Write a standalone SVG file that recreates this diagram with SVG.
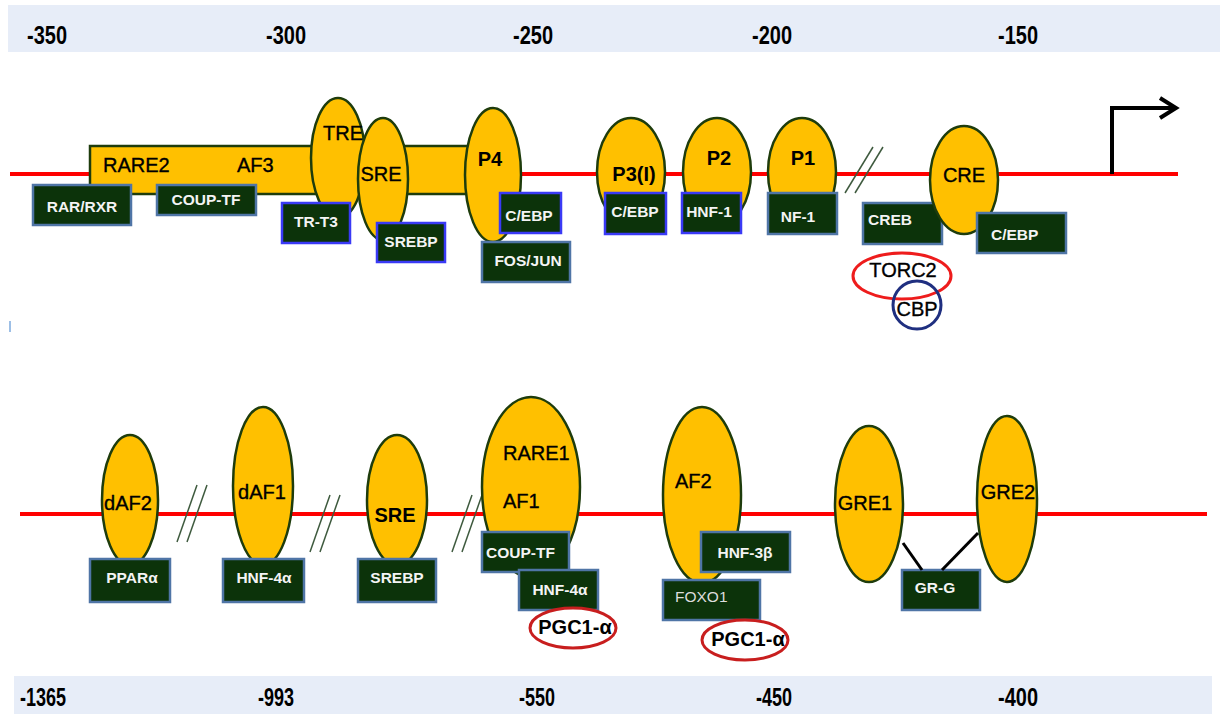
<svg xmlns="http://www.w3.org/2000/svg" width="1226" height="715" viewBox="0 0 1226 715">
<style>
.bar{fill:#E7EDF8}
.ax{font-family:"Liberation Sans",Arial,sans-serif;font-weight:bold;font-size:25px;fill:#000;text-anchor:middle}
.dna{stroke:#FF0000;stroke-width:4;fill:none}
.el{fill:#FFC000;stroke:#1E3C0C;stroke-width:2.5}
.bx{fill:#0C330A;stroke:#4F75A6;stroke-width:2.5}
.bb{fill:#0C330A;stroke:#3A3AF5;stroke-width:2.5}
.lbl{font-family:"Liberation Sans",Arial,sans-serif;font-size:20px;fill:#000;stroke:#000;stroke-width:0.35}
.b{font-weight:bold;stroke-width:0}
.m{text-anchor:middle}
.bt{font-family:"Liberation Sans",Arial,sans-serif;font-size:15.5px;font-weight:bold;fill:#F4F4F4}
.thin{font-weight:normal;fill:#DDDDDD}
.sl{stroke:#3E5A3E;stroke-width:1.5}
.pgc{fill:#fff;stroke:#C81E1E;stroke-width:3}
.con{stroke:#000;stroke-width:3;fill:none}
</style>

<!-- axis bars -->
<g id="axis-top">
<rect class="bar" x="8" y="5" width="1212" height="47"/>
<text class="ax" x="47" y="44" textLength="40" lengthAdjust="spacingAndGlyphs">-350</text>
<text class="ax" x="286" y="44" textLength="40" lengthAdjust="spacingAndGlyphs">-300</text>
<text class="ax" x="533" y="44" textLength="40" lengthAdjust="spacingAndGlyphs">-250</text>
<text class="ax" x="772" y="44" textLength="40" lengthAdjust="spacingAndGlyphs">-200</text>
<text class="ax" x="1018" y="44" textLength="40" lengthAdjust="spacingAndGlyphs">-150</text>
</g>
<g id="axis-bottom">
<rect class="bar" x="14" y="676" width="1198" height="38"/>
<text class="ax" x="43" y="706" textLength="46" lengthAdjust="spacingAndGlyphs">-1365</text>
<text class="ax" x="276" y="706" textLength="36" lengthAdjust="spacingAndGlyphs">-993</text>
<text class="ax" x="537" y="706" textLength="36" lengthAdjust="spacingAndGlyphs">-550</text>
<text class="ax" x="774" y="706" textLength="36" lengthAdjust="spacingAndGlyphs">-450</text>
<text class="ax" x="1018" y="706" textLength="40" lengthAdjust="spacingAndGlyphs">-400</text>
</g>

<line x1="10" y1="321" x2="10" y2="332" stroke="#9DBFE6" stroke-width="2"/>

<!-- DNA lines -->
<line class="dna" x1="10" y1="174" x2="1178" y2="174"/>
<line class="dna" x1="20" y1="514" x2="1207" y2="514"/>

<!-- break marks -->
<g id="breaks">
<line class="sl" x1="873" y1="147" x2="845" y2="193"/>
<line class="sl" x1="883" y1="147" x2="855" y2="193"/>
<line class="sl" x1="207" y1="485" x2="187" y2="542"/>
<line class="sl" x1="197" y1="485" x2="177" y2="542"/>
<line class="sl" x1="340" y1="495" x2="320" y2="552"/>
<line class="sl" x1="330" y1="495" x2="310" y2="552"/>
<line class="sl" x1="482" y1="495" x2="462" y2="552"/>
<line class="sl" x1="472" y1="495" x2="452" y2="552"/>
</g>

<!-- TSS arrow -->
<g id="tss">
<polyline points="1112,174 1112,108 1174,108" fill="none" stroke="#000" stroke-width="4" stroke-linejoin="miter"/>
<polyline points="1160,98 1176,108 1160,118" fill="none" stroke="#000" stroke-width="4"/>
</g>

<!-- top row -->
<g id="rare2-af3">
<rect class="el" x="90" y="146" width="390" height="48"/>
<text class="lbl" x="103" y="172">RARE2</text>
<text class="lbl" x="237" y="172">AF3</text>
</g>
<g id="rar-rxr"><rect class="bx" x="33" y="185" width="98" height="40"/><text class="bt m" x="82" y="212">RAR/RXR</text></g>
<g id="coup-tf-top"><rect class="bx" x="157" y="185" width="99" height="30"/><text class="bt m" x="206" y="205">COUP-TF</text></g>
<g id="tre"><ellipse class="el" cx="338" cy="158" rx="27" ry="60"/><text class="lbl m" x="343" y="140" font-size="19">TRE</text></g>
<g id="sre-top"><ellipse class="el" cx="383" cy="179" rx="25" ry="61"/><text class="lbl m" x="381" y="181">SRE</text></g>
<g id="tr-t3"><rect class="bb" x="282" y="203" width="68" height="40"/><text class="bt m" x="316" y="227">TR-T3</text></g>
<g id="srebp-top"><rect class="bb" x="377" y="223" width="68" height="39"/><text class="bt m" x="411" y="247">SREBP</text></g>
<g id="p4"><ellipse class="el" cx="493" cy="175" rx="28" ry="67"/><text class="lbl b m" x="490" y="166" font-size="22">P4</text></g>
<g id="cebp-p4"><rect class="bb" x="500" y="193" width="61" height="40"/><text class="bt m" x="529" y="221">C/EBP</text></g>
<g id="fos-jun"><rect class="bx" x="482" y="242" width="88" height="40"/><text class="bt m" x="528" y="266">FOS/JUN</text></g>
<g id="p3"><ellipse class="el" cx="631" cy="172" rx="34" ry="54"/><text class="lbl b m" x="634" y="181" font-size="23">P3(I)</text></g>
<g id="cebp-p3"><rect class="bb" x="605" y="193" width="61" height="41"/><text class="bt m" x="635" y="217">C/EBP</text></g>
<g id="p2"><ellipse class="el" cx="717" cy="172" rx="34" ry="54"/><text class="lbl b m" x="719" y="165" font-size="22">P2</text></g>
<g id="hnf1"><rect class="bb" x="682" y="193" width="59" height="40"/><text class="bt m" x="709" y="217">HNF-1</text></g>
<g id="p1"><ellipse class="el" cx="802" cy="172" rx="34" ry="54"/><text class="lbl b m" x="803" y="165" font-size="22">P1</text></g>
<g id="nf1"><rect class="bx" x="768" y="193" width="69" height="41"/><text class="bt m" x="798" y="222">NF-1</text></g>
<g id="creb"><rect class="bx" x="863" y="203" width="79" height="41"/><text class="bt" x="868" y="225">CREB</text></g>
<g id="cre"><ellipse class="el" cx="964" cy="180" rx="34" ry="54"/><text class="lbl m" x="964" y="182">CRE</text></g>
<g id="cebp-cre"><rect class="bx" x="977" y="213" width="89" height="40"/><text class="bt" x="991" y="240">C/EBP</text></g>
<g id="torc2"><ellipse cx="902" cy="276" rx="49" ry="23" fill="none" stroke="#EE1C1C" stroke-width="3"/><text class="lbl m" x="903" y="277" font-size="19">TORC2</text></g>
<g id="cbp"><circle cx="917" cy="305" r="24" fill="none" stroke="#1F2F80" stroke-width="3"/><text class="lbl m" x="917" y="316" font-size="19">CBP</text></g>

<!-- bottom row -->
<g id="daf2"><ellipse class="el" cx="130" cy="500" rx="28" ry="65"/><text class="lbl m" x="128" y="510">dAF2</text></g>
<g id="ppara"><rect class="bx" x="90" y="559" width="80" height="43"/><text class="bt m" x="132" y="583">PPARα</text></g>
<g id="daf1"><ellipse class="el" cx="263" cy="486" rx="30" ry="79"/><text class="lbl m" x="262" y="499">dAF1</text></g>
<g id="hnf4a-1"><rect class="bx" x="223" y="559" width="81" height="43"/><text class="bt m" x="264" y="583">HNF-4α</text></g>
<g id="sre-bottom"><ellipse class="el" cx="397" cy="500" rx="30" ry="65"/><text class="lbl b m" x="395" y="522" font-size="23">SRE</text></g>
<g id="srebp-bottom"><rect class="bx" x="358" y="559" width="78" height="43"/><text class="bt m" x="397" y="583">SREBP</text></g>
<g id="rare1-af1"><ellipse class="el" cx="531" cy="487" rx="49" ry="90"/><text class="lbl" x="503" y="460">RARE1</text><text class="lbl" x="503" y="508">AF1</text></g>
<g id="coup-tf-bottom"><rect class="bx" x="482" y="532" width="87" height="40"/><text class="bt" x="486" y="558">COUP-TF</text></g>
<g id="hnf4a-2"><rect class="bx" x="519" y="570" width="79" height="40"/><text class="bt m" x="560" y="595">HNF-4α</text></g>
<g id="pgc1a-1"><ellipse class="pgc" cx="573" cy="628" rx="43" ry="20"/><text class="lbl b m" x="575" y="634" font-size="17">PGC1-α</text></g>
<g id="af2"><ellipse class="el" cx="702" cy="495" rx="39" ry="88"/><text class="lbl" x="675" y="488">AF2</text></g>
<g id="hnf3b"><rect class="bx" x="701" y="532" width="89" height="40"/><text class="bt m" x="745" y="558">HNF-3β</text></g>
<g id="foxo1"><rect class="bx" x="663" y="580" width="97" height="40"/><text class="bt thin" x="675" y="602">FOXO1</text></g>
<g id="pgc1a-2"><ellipse class="pgc" cx="745" cy="640" rx="43" ry="20"/><text class="lbl b m" x="748" y="646" font-size="17">PGC1-α</text></g>
<g id="gre1"><ellipse class="el" cx="869" cy="504" rx="34" ry="78"/><text class="lbl m" x="865" y="510">GRE1</text></g>
<g id="gre2"><ellipse class="el" cx="1007" cy="499" rx="30" ry="83"/><text class="lbl m" x="1008" y="499">GRE2</text></g>
<g id="gr-g"><rect class="bx" x="902" y="570" width="78" height="40"/><text class="bt m" x="935" y="593">GR-G</text></g>

<g id="connectors">
<line class="con" x1="903" y1="543" x2="922" y2="570"/>
<line class="con" x1="978" y1="533" x2="942" y2="570"/>
</g>
</svg>
